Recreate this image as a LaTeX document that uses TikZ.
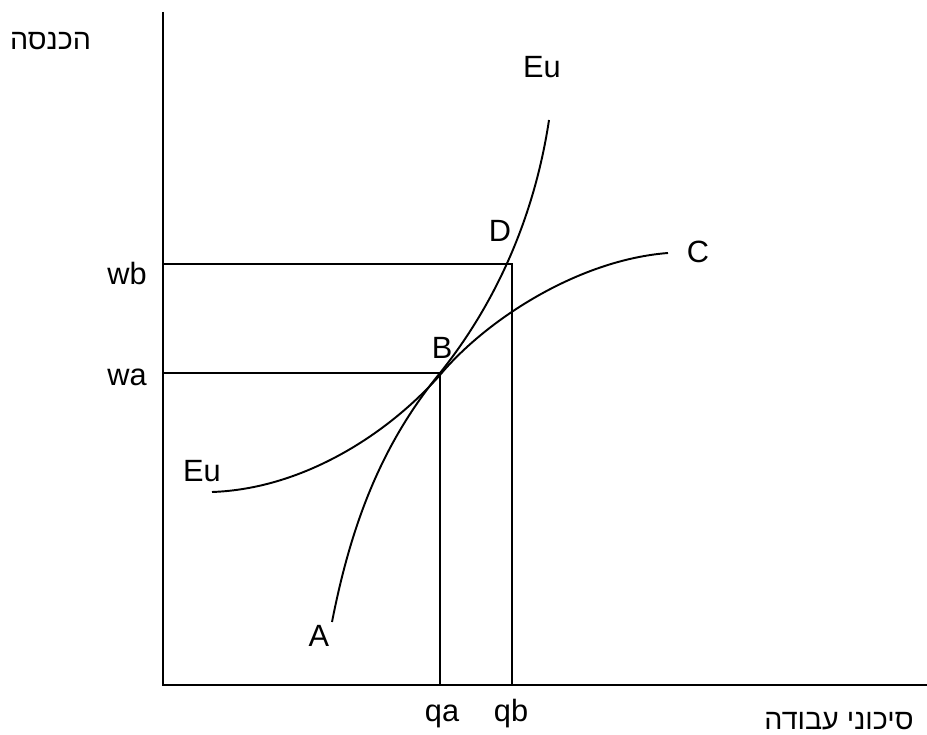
\documentclass[tikz,border=0pt]{standalone}
\usepackage{fontspec}
\usepackage{xcolor}
\usepackage{tikz}
\setmainfont{Liberation Sans}
\newfontfamily\hebfont[Script=Hebrew]{Liberation Sans}
\TeXXeTstate=1
\definecolor{UtLine}{HTML}{000000}
\tikzset{
  axisline/.style={UtLine,line width=1.1pt},
  guideline/.style={UtLine,line width=1.1pt},
  utcurve/.style={UtLine,line width=1.1pt},
  lbl/.style={anchor=base,inner sep=0pt,font=\fontsize{17.5}{21}\selectfont},
  heblbl/.style={anchor=base,inner sep=0pt,font=\fontsize{16.3}{20}\selectfont\hebfont}
}
\begin{document}
\begin{tikzpicture}[x=1cm,y=1cm]
\path[use as bounding box] (0,0) rectangle (18.54,14.70);
% axes
\coordinate (O) at (3.26,1.00);
\coordinate (Ytop) at (3.26,14.46);
\coordinate (Xend) at (18.54,1.00);
\draw[axisline] (Ytop) -- (O) -- (Xend);
% guide lines
\coordinate (wbY) at (3.26,9.42);
\coordinate (Dpt) at (10.24,9.42);
\coordinate (qbX) at (10.24,1.00);
\coordinate (waY) at (3.26,7.24);
\coordinate (Bpt) at (8.80,7.24);
\coordinate (qaX) at (8.80,1.00);
\draw[guideline] (wbY) -- (Dpt) -- (qbX);
\draw[guideline] (waY) -- (Bpt) -- (qaX);
% steep curve A - Eu
\coordinate (Apt) at (6.64,2.26);
\coordinate (EuTop) at (10.98,12.30);
\draw[utcurve] (Apt) .. controls (7.02,4.20) and (7.62,5.80) .. (Bpt)
  .. controls (10.00,8.74) and (10.71,10.50) .. (EuTop);
% flat curve Eu - C
\coordinate (EuLow) at (4.24,4.86);
\coordinate (Qpt) at (8.80,7.20);
\coordinate (Cpt) at (13.36,9.64);
\draw[utcurve] (EuLow) .. controls (6.04,4.92) and (7.74,6.00) .. (Qpt)
  .. controls (9.72,8.30) and (11.56,9.50) .. (Cpt);
% labels
\node[lbl] (lEuTop) at (10.84,13.14) {Eu};
\node[lbl] (lD) at (10.00,9.86) {D};
\node[lbl] (lC) at (13.96,9.44) {C};
\node[lbl] (lwb) at (2.54,9.00) {wb};
\node[lbl] (lB) at (8.84,7.52) {B};
\node[lbl] (lwa) at (2.54,6.98) {wa};
\node[lbl] (lEuLow) at (4.04,5.06) {Eu};
\node[lbl] (lA) at (6.38,1.76) {A};
\node[lbl] (lqa) at (8.84,0.26) {qa};
\node[lbl] (lqb) at (10.22,0.26) {qb};
\node[heblbl] (lIncome) at (1.01,13.70) {\beginR הכנסה\endR};
\node[heblbl] (lRisk) at (16.78,0.10) {\beginR סיכוני עבודה\endR};
\end{tikzpicture}
\end{document}
